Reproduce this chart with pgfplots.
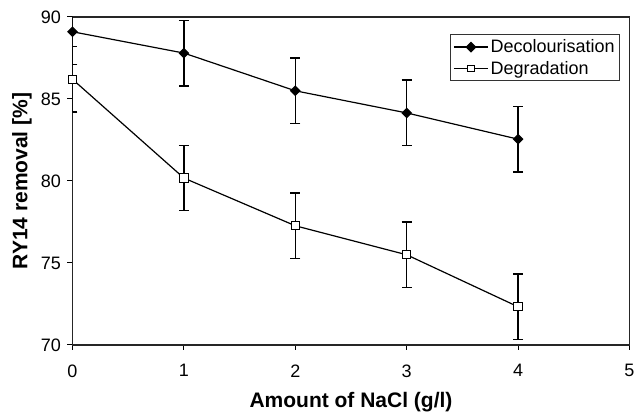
\documentclass[border=0pt]{standalone}
\usepackage{pgfplots}
\pgfplotsset{compat=1.18}
\usepackage{fontspec}
\setmainfont{Liberation Sans}
\begin{document}
\begin{tikzpicture}
\begin{axis}[
  scale only axis,
  width=557pt, height=328pt,
  xmin=0, xmax=5, ymin=70, ymax=90,
  xtick={0,1,2,3,4,5}, ytick={70,75,80,85,90},
  tick align=outside,
  xtick pos=bottom, ytick pos=left,
  major tick length=5pt,
  every tick/.style={black, line width=1pt},
  axis line style={line width=1.2pt, black!85},
  /pgf/number format/assume math mode=true,
  tick label style={font=\fontsize{18}{21}\selectfont},
  xticklabel style={yshift=-11pt},
  yticklabel style={xshift=-3pt},
  xlabel={\textbf{Amount of NaCl (g/l)}},
  ylabel={\textbf{RY14 removal [\%]}},
  label style={font=\fontsize{21}{24}\selectfont},
  xlabel style={at={([yshift=-63pt]axis description cs:0.5,0)}, anchor=base},
  ylabel style={at={([xshift=-45pt]axis description cs:0,0.5)}, anchor=base},
  legend style={at={(0.983,0.947)}, anchor=north east, draw=black!80, line width=0.9pt,
    font=\fontsize{18}{21}\selectfont, row sep=3pt, inner xsep=3pt, inner ysep=3pt},
  legend cell align=left,
  legend image code/.code={\draw[#1, mark repeat=2, mark phase=2, mark size=3.3pt]
     plot coordinates {(0pt,0pt) (17pt,0pt) (34pt,0pt)};},
]
\addplot[black, line width=1.2pt, mark=square*, mark size=3.2pt, mark options={fill=black, rotate=45},
  error bars/.cd, y dir=both, y explicit,
  error bar style={line width=1.3pt},
  error mark options={rotate=90, mark size=5pt, line width=1.3pt}]
  coordinates {
  (0,89.1) +- (0,2)
  (1,87.8) +- (0,2)
  (2,85.5) +- (0,2)
  (3,84.15) +- (0,2)
  (4,82.55) +- (0,2)
  };
\addlegendentry{Decolourisation}
\addplot[black, line width=1.2pt, mark=square*, mark size=4.2pt, mark options={fill=white, line width=1pt},
  error bars/.cd, y dir=both, y explicit,
  error bar style={line width=1.3pt},
  error mark options={rotate=90, mark size=5pt, line width=1.3pt}]
  coordinates {
  (0,86.2) +- (0,2)
  (1,80.18) +- (0,2)
  (2,77.27) +- (0,2)
  (3,75.5) +- (0,2)
  (4,72.33) +- (0,2)
  };
\addlegendentry{Degradation}
\end{axis}
\pgfresetboundingbox
\path ([xshift=-72.5pt,yshift=-67pt]current axis.south west) rectangle ([xshift=5.5pt,yshift=17pt]current axis.north east);
\end{tikzpicture}
\end{document}
